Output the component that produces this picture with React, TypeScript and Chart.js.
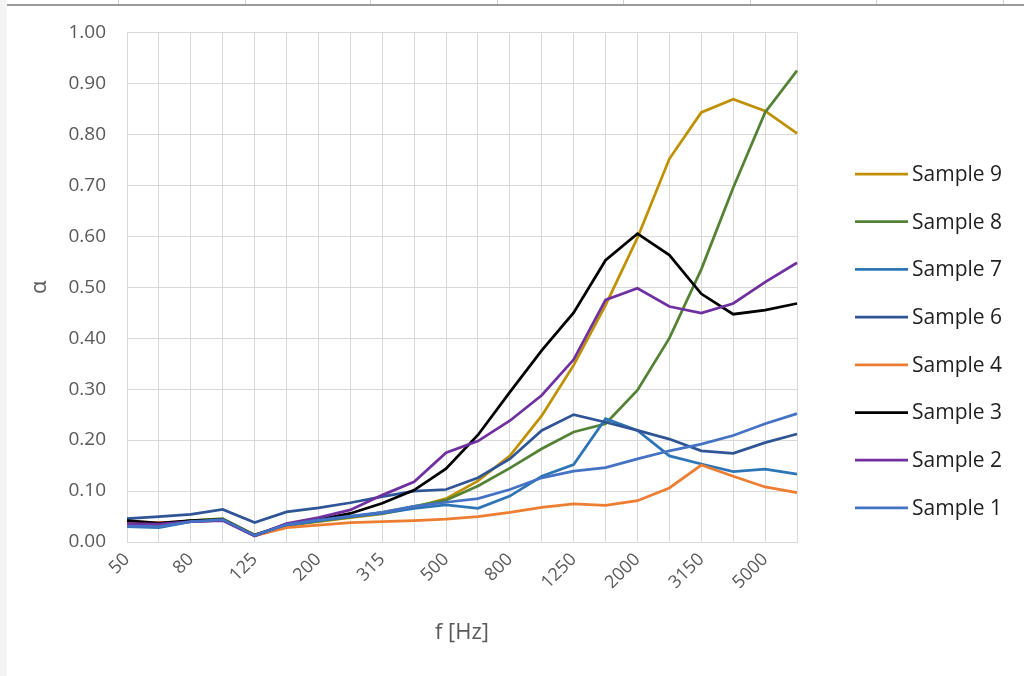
import React, { useEffect, useRef } from 'react';
import { Chart, registerables } from 'chart.js';

Chart.register(...registerables);

// Third-octave band centre frequencies (Hz)
const frequencies = ['50', '63', '80', '100', '125', '160', '200', '250', '315', '400', '500', '630', '800', '1000', '1250', '1600', '2000', '2500', '3150', '4000', '5000', '6300'];

// Absorption coefficient α per sample
const sample9 = [0.038, 0.035, 0.042, 0.045, 0.014, 0.032, 0.040, 0.048, 0.055, 0.068, 0.085, 0.120, 0.169, 0.248, 0.347, 0.465, 0.597, 0.752, 0.843, 0.869, 0.846, 0.802];
const sample8 = [0.036, 0.034, 0.042, 0.046, 0.014, 0.033, 0.041, 0.049, 0.058, 0.070, 0.082, 0.110, 0.145, 0.183, 0.216, 0.232, 0.298, 0.400, 0.535, 0.695, 0.843, 0.925];
const sample7 = [0.030, 0.028, 0.040, 0.043, 0.012, 0.032, 0.042, 0.050, 0.056, 0.066, 0.073, 0.066, 0.090, 0.129, 0.152, 0.242, 0.219, 0.169, 0.153, 0.138, 0.143, 0.133];
const sample6 = [0.046, 0.050, 0.054, 0.064, 0.038, 0.059, 0.067, 0.077, 0.089, 0.100, 0.103, 0.126, 0.163, 0.219, 0.250, 0.235, 0.219, 0.202, 0.179, 0.174, 0.195, 0.212];
const sample4 = [0.040, 0.038, 0.040, 0.043, 0.012, 0.028, 0.033, 0.038, 0.040, 0.042, 0.045, 0.050, 0.058, 0.068, 0.075, 0.072, 0.081, 0.106, 0.151, 0.129, 0.108, 0.097];
const sample3 = [0.042, 0.037, 0.042, 0.044, 0.013, 0.035, 0.044, 0.056, 0.076, 0.102, 0.144, 0.210, 0.294, 0.376, 0.450, 0.553, 0.605, 0.563, 0.487, 0.447, 0.455, 0.468];
const sample2 = [0.036, 0.035, 0.040, 0.042, 0.012, 0.036, 0.048, 0.063, 0.092, 0.118, 0.175, 0.198, 0.238, 0.288, 0.358, 0.475, 0.498, 0.462, 0.449, 0.468, 0.510, 0.548];
const sample1 = [0.031, 0.030, 0.040, 0.044, 0.013, 0.034, 0.043, 0.051, 0.058, 0.070, 0.078, 0.085, 0.103, 0.126, 0.139, 0.146, 0.163, 0.179, 0.192, 0.209, 0.232, 0.252];

const seriesNames = ['Sample 9', 'Sample 8', 'Sample 7', 'Sample 6', 'Sample 4', 'Sample 3', 'Sample 2', 'Sample 1'];
const seriesValues = [sample9, sample8, sample7, sample6, sample4, sample3, sample2, sample1];
const seriesColors = ['#BF9000', '#548235', '#2E75B6', '#2F5597', '#ED7D31', '#000000', '#7030A0', '#4472C4'];

const FONT = '"Open Sans", "Noto Sans", sans-serif';

export default function App() {
  const canvasRef = useRef<HTMLCanvasElement | null>(null);

  useEffect(() => {
    document.body.style.margin = '0';
    const canvas = canvasRef.current;
    if (!canvas) return;

    const legendPlugin = {
      id: 'sideLegend',
      afterDraw(chart: any) {
        const { ctx, chartArea } = chart;
        const x0 = chartArea.right + 58;
        const y0 = 174;
        const step = 47.7;
        ctx.save();
        ctx.font = `21px ${FONT}`;
        ctx.textBaseline = 'middle';
        ctx.textAlign = 'left';
        chart.data.datasets.forEach((ds: any, i: number) => {
          const y = y0 + i * step;
          ctx.strokeStyle = ds.borderColor;
          ctx.lineWidth = 2.75;
          ctx.beginPath();
          ctx.moveTo(x0, y);
          ctx.lineTo(x0 + 53, y);
          ctx.stroke();
          ctx.fillStyle = '#1f1f1f';
          ctx.fillText(ds.label, x0 + 57, y + 1);
        });
        ctx.restore();
      },
    };

    const chart = new Chart(canvas, {
      type: 'line',
      data: {
        labels: frequencies,
        datasets: seriesNames.map((name, i) => ({
          label: name,
          data: seriesValues[i],
          borderColor: seriesColors[i],
          backgroundColor: seriesColors[i],
          borderWidth: 2.75,
          pointRadius: 0,
          tension: 0,
          fill: false,
          order: seriesNames.length - i,
        })),
      },
      options: {
        responsive: false,
        animation: false,
        devicePixelRatio: 1,
        layout: { padding: { left: 0, right: 227, top: 32, bottom: 0 } },
        plugins: {
          legend: { display: false },
          tooltip: { enabled: false },
        },
        scales: {
          x: {
            offset: false,
            grid: { color: '#D9D9D9', lineWidth: 1, drawTicks: false },
            border: { color: '#D9D9D9' },
            ticks: {
              autoSkip: false,
              maxRotation: 45,
              minRotation: 45,
              padding: 7,
              color: '#595959',
              font: { family: FONT, size: 18 },
              callback: (_v: any, i: number) => (i % 2 === 0 ? frequencies[i] : ''),
            },
            title: {
              display: true,
              text: 'f [Hz]',
              color: '#595959',
              font: { family: FONT, size: 22 },
              padding: { top: 0, bottom: 30 },
            },
            afterFit: (scale: any) => {
              scale.height = 134;
            },
          },
          y: {
            min: 0,
            max: 1,
            grid: { color: '#D9D9D9', lineWidth: 1, drawTicks: false },
            border: { display: false },
            ticks: {
              stepSize: 0.1,
              padding: 21,
              color: '#595959',
              font: { family: FONT, size: 19 },
              callback: (v: any) => Number(v).toFixed(2),
            },
            title: {
              display: true,
              text: 'α',
              color: '#595959',
              font: { family: FONT, size: 22 },
              padding: { top: 27, bottom: 0 },
            },
            afterFit: (scale: any) => {
              scale.width = 127;
            },
          },
        },
      },
      plugins: [legendPlugin],
    });

    return () => {
      chart.destroy();
    };
  }, []);

  const cellLines = [118, 245, 370, 497, 623, 750, 876, 1003];

  return (
    <div style={{ position: 'absolute', left: 0, top: 0, width: 1024, height: 676, background: '#ffffff', overflow: 'hidden' }}>
      <canvas ref={canvasRef} width={1024} height={676} style={{ position: 'absolute', left: 0, top: 0, width: 1024, height: 676 }} />
      <div style={{ position: 'absolute', left: 0, top: 0, width: 7, height: 676, background: '#f4f4f4' }} />
      {cellLines.map((x) => (
        <div key={x} style={{ position: 'absolute', left: x, top: 0, width: 1, height: 4, background: '#d0d0d0' }} />
      ))}
      <div style={{ position: 'absolute', left: 7, top: 4, width: 1017, height: 2, background: '#9a9a9a' }} />
    </div>
  );
}
